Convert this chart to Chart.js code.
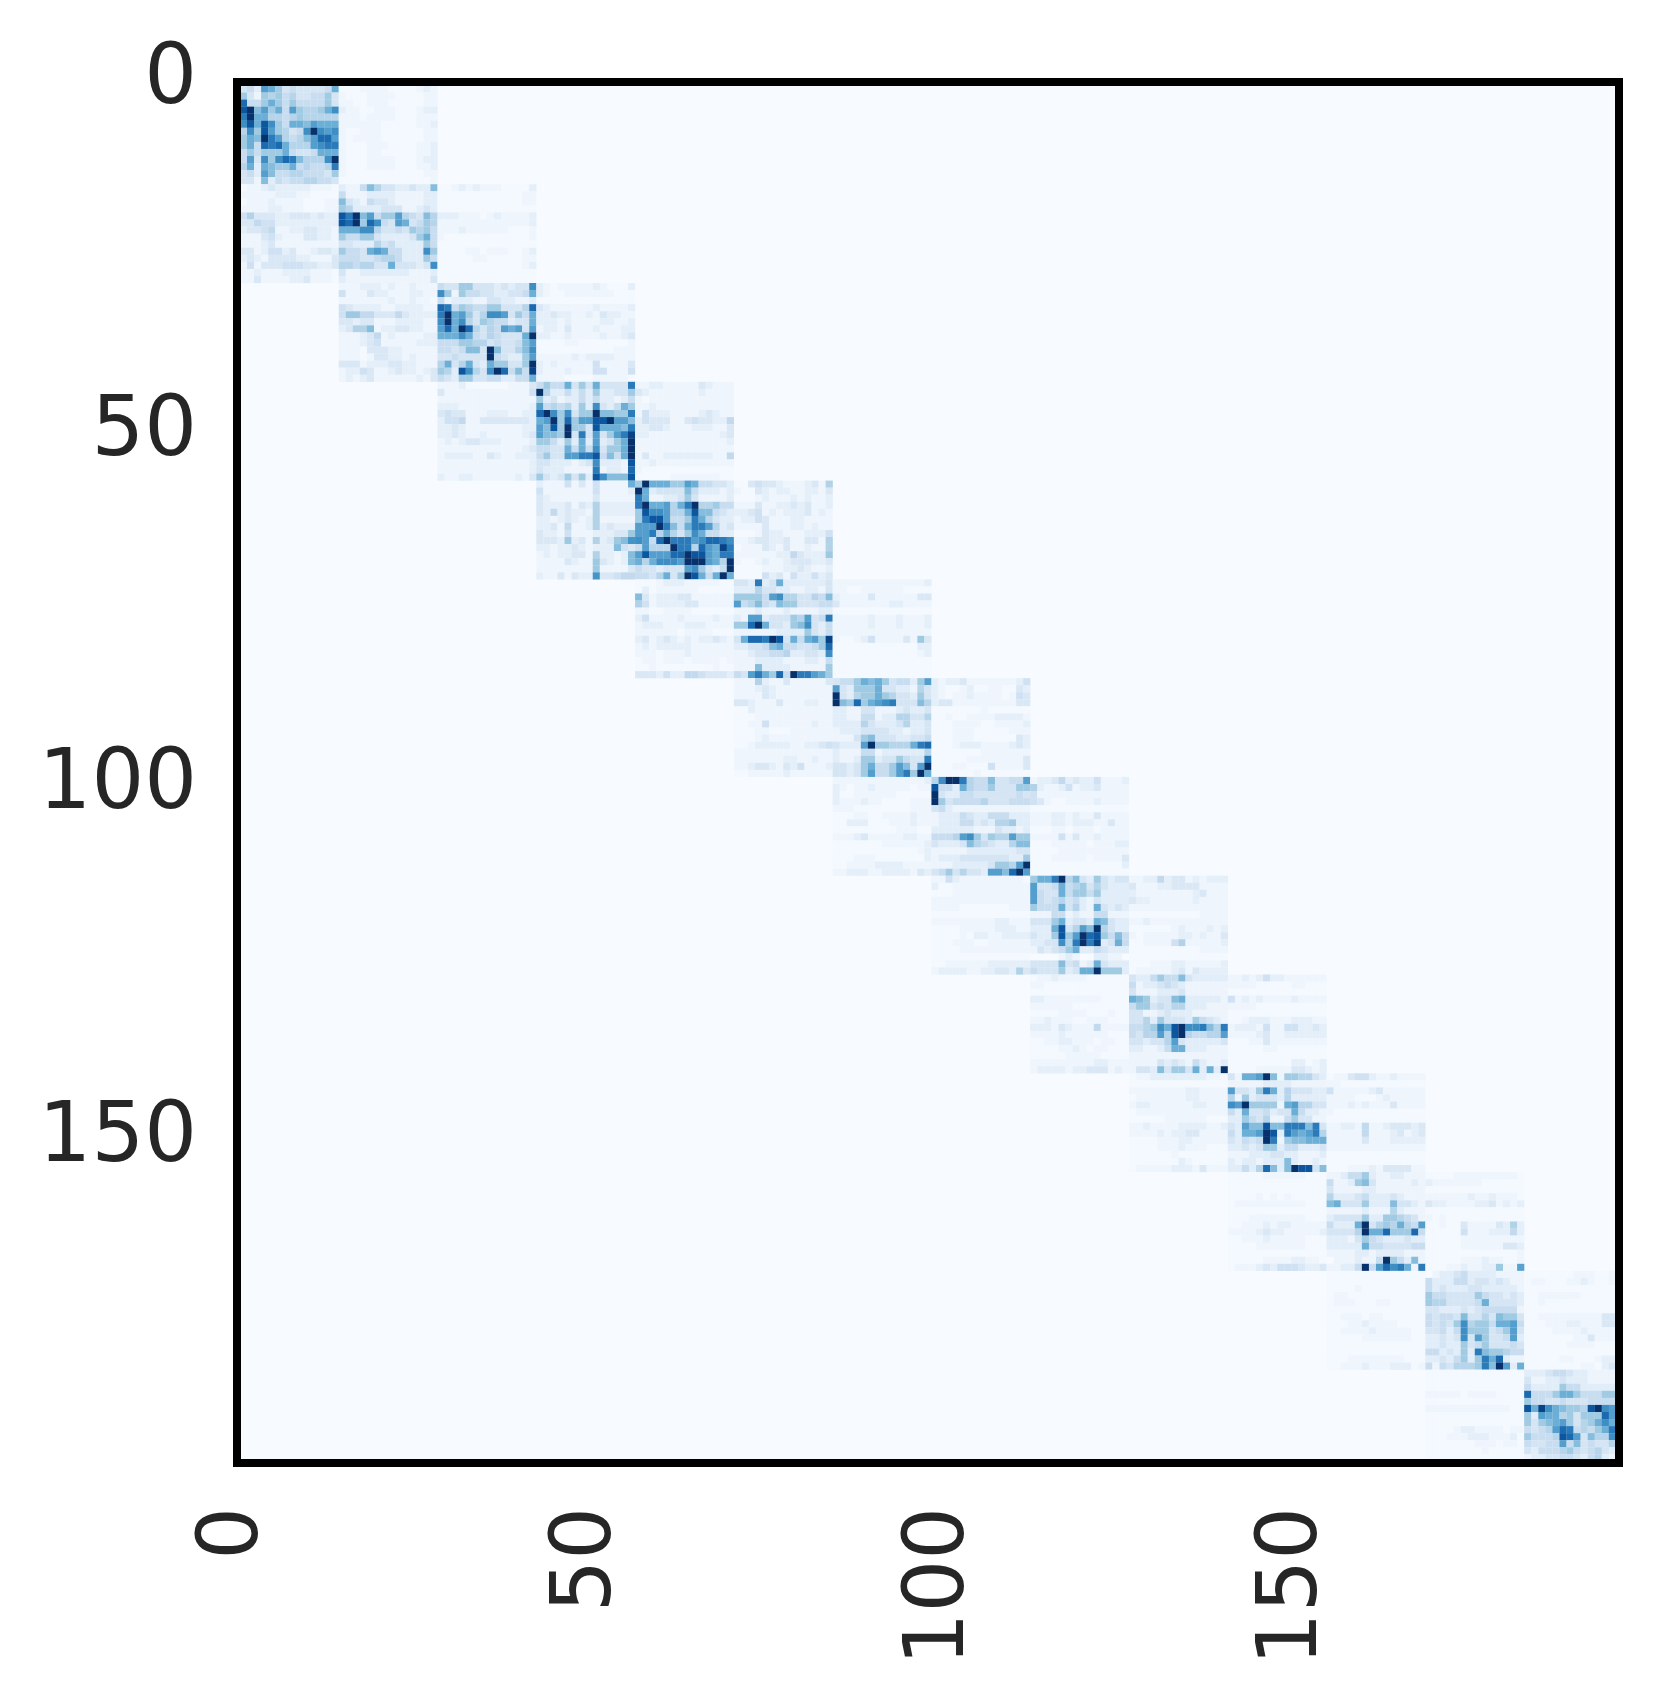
<!DOCTYPE html>
<html>
<head>
<meta charset="utf-8">
<title>heatmap</title>
<script src="https://cdn.jsdelivr.net/npm/chart.js@4/dist/chart.umd.js"></script>
<style>
  html, body { margin: 0; background: #ffffff; }
  canvas { display: block; }
</style>
</head>
<body>
<canvas id="heatmap" width="1661" height="1702"></canvas>
<script>
const tickValues = [0, 50, 100, 150];
const blockSize = 14;
const blueStops = ['#f7fbff', '#deebf7', '#c6dbef', '#9ecae1', '#6baed6', '#4292c6', '#2171b5', '#08519c', '#08306b'];

// one hex digit per cell (0 = palest, f = darkest)
// each row: block left of the diagonal, diagonal block, block right of it
const rows0 = [
  "- 34298634333348 00011110000121",
  "- 63165645334463 10001111000011",
  "- c4468646444463 11001110000011",
  "- df79684965568a 21100111000122",
  "- bf885545655555 11101111000111",
  "- ad8da648879888 11111100000112",
  "- 5a6d96534afa9a 10011100000011",
  "- 687fb954579cc9 10111100000011",
  "- 684cbc85559abb 10001110000112",
  "- 46466684334888 10001100000112",
  "- 493a6acb7555af 10001111000122",
  "- 5828766845445b 10001111000112",
  "- 34297445544436 10000000000011",
  "- 33172434455443 00000000000001"
];
const rows1 = [
  "01123222221110 21147533223227 00121211100002",
  "11111222110000 41112222111122 00000000000011",
  "01112111100011 73214332111122 00000000000011",
  "11112211100011 65222233311232 00000000000000",
  "46333223332322 dbf79466954375 22211101211112",
  "33544222222222 dcf6ca43983465 11111111111112",
  "23345112233221 888aa533436564 11121111110001",
  "11134211133221 64466322223684 10000000000001",
  "11123111111111 33222534222264 00000000000000",
  "33124423112332 644389844222a6 00001101110012",
  "23213333221113 44433455422264 00000110000011",
  "14133344433223 5545533833323a 00000000000012",
  "11211122221110 31122222221112 00000000000000",
  "11311112231110 21111111111113 00000000000000"
];
const rows2 = [
  "11122212112111 4336633323233a 21011111210002",
  "41113221112211 a6164433223348 21001111111000",
  "11111112112110 41222113322112 00000000000000",
  "43222211222211 cb46544663335c 32111111211112",
  "47755333532222 bf89635aa93648 22322112132211",
  "33233111222211 af8a5365442338 22212111122112",
  "23668122332211 9c8fc535498939 12213111211122",
  "11123512111122 888a843543338f 22112111121123",
  "11123411111222 44466553433479 00001100000001",
  "11103332211111 4434773f73357a 00000000000111",
  "11101332212111 3343333f432269 11111212222111",
  "33312223322111 5835832866336f 21211111411113",
  "12243112322123 652da53afc474e 21112111441114",
  "12123111111213 43266334422448 11110000111110"
];
const rows3 = [
  "11120000001113 4644836383333b 11221111132111",
  "31111111111114 f5224242622336 32111111121111",
  "11111111111111 62312242422124 10111111111111",
  "22211111111112 94545262a32486 11211111111111",
  "34331112221122 cfa6a366f7766b 14222111123211",
  "24451133333332 89f6c699ddf997 24333113433225",
  "22321111111122 97d6f663d8887b 22332111222113",
  "22321121111123 9776f3b39369be 22111111111123",
  "12123322211112 6642628292368f 11111111111112",
  "11111111111123 44338484a3668f 11111111111111",
  "12222113211222 463399bbd4748f 13112222222115",
  "11111111111112 33222123a2221d 11211111111111",
  "11111111111112 32221111b1221c 10000000000000",
  "21122111111213 63236362da777d 00000111111100"
];
const rows4 = [
  "21114131411119 6f888669844332 00343321112316",
  "41111111411112 f8233337422212 10032122112213",
  "32111111311111 b8112236311112 00012111212112",
  "32223132622222 bf88958bf55644 11131122323112",
  "32523221622222 6daa9558d77432 22341212223121",
  "22123212611111 6bdd9446b85322 12243111221111",
  "22315112623222 999fb748bb9523 11113111221211",
  "32214111222337 99b58536a84422 00013221112224",
  "3332723162378b a94cfbbb9accba 11233223113316",
  "22122321222843 49555fbb5c98eb 01113213112116",
  "12122331622128 9d999ccfdd98bb 11111122532227",
  "11113211732128 858aaa9fff985f 10012112333223",
  "11111111711113 43323339a6324f 00001112232112",
  "21131322b33455 4435836fd848f8 00004231422423"
];
const rows5 = [
  "00012221111100 332b2382222223 11111111111112",
  "02011111100000 22253322112213 11001111110000",
  "83122233111111 666649a5533547 21111311111133",
  "64122223311111 94574376633344 31111111221111",
  "11001111000000 11121112111122 00000000000000",
  "24111121111211 2199233365934b 11111211121112",
  "12221112221111 66cf833267a324 11111211121112",
  "11111101111000 11111122226324 11111111111111",
  "23123212122321 38ccbfd384896e 10012411113173",
  "12122222111111 2233478443346c 00000000000022",
  "11101112111111 1123344522332a 00000000000012",
  "01101110111101 11122221112214 00000000000000",
  "00100000000100 11172222111116 00000000000000",
  "33324225543332 439b86c4fbb986 00000000000000"
];
const rows6 = [
  "11162113111113 34468786344269 21223111111124",
  "11123211111111 93266683322153 21001200110032",
  "11113211111111 f3256686533263 21011211110143",
  "33211131112211 f76c689ab33375 23311111111133",
  "00211111111111 22113311123223 00000001000000",
  "00011111111111 22114412255335 00100111122221",
  "00114111111211 22225322235223 00011110011112",
  "00011000111111 12223333221223 00011100000111",
  "00012111111111 11136733322334 00011100000032",
  "00122222112234 32229f665558bc 00012221111232",
  "11111111111111 21114412222225 00000001111111",
  "11111112211211 2112662336433b 00000111111113",
  "11233213241112 3323684469739f 00011000411113",
  "00111112111111 3323694469b6f8 00000010000000"
];
const rows7 = [
  "11111111111112 5affb544733449 12235232241112",
  "21011211111011 d4428544633366 62112412231111",
  "20011111100000 f3224433333343 41111111111111",
  "21112110000111 f6344445333444 43100111121111",
  "11100000000111 34211111111111 00000000000000",
  "00011001111211 12224322444222 11122121131111",
  "00222000111211 12224423255622 11122122211311",
  "00000000011100 22222211132212 00011011101111",
  "11123111112211 44459a63655966 11114131121111",
  "00000001111112 32223754322577 00011111011122",
  "00000000000012 11111222222233 00001111111111",
  "00011100000002 12223333333226 00011111011113",
  "00111122221111 1112222236659f 00000000000002",
  "11222112222132 34635332997cf9 00000000000000"
];
const rows8 = [
  "11421111111110 688bf573263233 11225233121222",
  "20011111111111 93348456353222 31112233331111",
  "00011111111111 94338466462222 21111111123111",
  "11111111111111 94345342132222 32211111121111",
  "11110000000111 64448352183232 11111111111111",
  "00000000000000 11144121144111 00000000001111",
  "11111111122111 33368233287322 11211111111111",
  "00001111122211 2228d3597f5322 00000012111212",
  "00001022112222 3226d69fcd6474 10111112212113",
  "00011100111111 2233a5bfbe2384 00111146111112",
  "00001111111111 13234682243222 00000000001111",
  "00000000000000 00001210022110 00000000000000",
  "00111111222222 33337341283222 00011122111112",
  "12222112233263 433362388f6662 01111123132222"
];
const rows9 = [
  "01121111000000 32246447322222 11212422111111",
  "11000000000000 41223432111111 11110000011000",
  "00000000000000 31112223111111 00000000000000",
  "22111111110000 87623378222221 41212111121111",
  "11111100000000 46634355222111 11110000000000",
  "00001111000100 33112322211111 00000000000000",
  "11211100111000 33526333264321 00122211122211",
  "22213211151111 4456a8dfaab75b 12221411442232",
  "11112111111000 435595df544559 11112311222222",
  "00112211101100 33233593222223 00011311111111",
  "00001121011000 22112488222111 00000110000000",
  "00000111110000 11111111111111 00000000000000",
  "11111111122111 11113232142112 00000000022012",
  "12222122333121 1332736638282f 00001111133212"
];
const rows10 = [
  "01122222222110 31889f71665532 01134421121111",
  "00000000000000 11111222211111 11000000000000",
  "11111111221111 93326b82533322 41111123111111",
  "01111111221111 51623332522222 11110001211111",
  "12211111122111 a9f66661895533 11121211131111",
  "01111111111111 42833423384221 10000000000000",
  "00000111111000 22643511463311 00000000000000",
  "11211112222112 32977d77bbb7b3 11221511233323",
  "11112122331111 42889fd2b989b5 11111511123123",
  "00001112211111 32434fb1677888 11111311122222",
  "00001112111000 22323662442223 11111111111111",
  "00000010000000 11122233221112 00000000000000",
  "00000002100000 21221222721121 00000000000000",
  "01111122213111 22425c727fdd37 00011121333311"
];
const rows11 = [
  "00000111111000 11244621122111 00001111111110",
  "00000000000000 41126731111121 21111111000000",
  "00000000000000 31111221111111 00000000000000",
  "00001010100000 52223422232111 11111121121110",
  "01111111111000 78333622273321 32211112231212",
  "00000000000000 11111211152111 00000000000000",
  "00011111111000 23333622665431 10100000000000",
  "00111212211111 42228f35658549 00100311113262",
  "11112322111112 33335f88c666c4 00000411122252",
  "00111211111000 22213643222322 00000111111111",
  "00001111111000 22222844333344 00000111111332",
  "00000000000000 11112212222111 00000000000001",
  "00000111122110 01112114f64271 00000111211001",
  "01112324443223 11224f49cab81b 0001121122711a"
];
const rows12 = [
  "00000000000000 01223422221111 00000001110011",
  "00000000000000 42224423323211 01100011210011",
  "00001000000000 42322233222221 00000000000000",
  "01100000000000 64433336433232 00111111000000",
  "01110001100000 65533334833332 00100000000000",
  "00000000000000 33222323444441 00000000000000",
  "00111011000000 43443733537663 00111111111330",
  "00011211110000 43436a56648894 00011122111331",
  "00111121111100 33424a66634693 00001111211111",
  "00000111111100 22323a39633492 00000001131111",
  "00000000000000 22322634633343 00000011110000",
  "00000000000000 4423262b766544 00000000000000",
  "00011111111000 22324626b8c211 00000110001221",
  "00111211122201 41435556b7f928 00000000110233"
];
const rows13 = [
  "00000000000000 22234432211111",
  "00000000000000 31122322211111",
  "00000000000000 42222644222222",
  "11111011110000 c4446886444666",
  "00000000000000 64433433344444",
  "11111111111100 d8ea87665dfa99",
  "00000000000000 62988563666c99",
  "00000000000000 63678963568a88",
  "00001221111011 43459cb45468bb",
  "00011122211120 64445dc93755aa",
  "00000001110110 43344947343355",
  "00000000100000 32444564345322",
  "00000000000000 12233443245211",
  "00000000000000 11111222111111"
];
const allRows = [rows0, rows1, rows2, rows3, rows4, rows5, rows6, rows7, rows8, rows9, rows10, rows11, rows12, rows13];

const hexToRgb = (hex) => [1, 3, 5].map(i => parseInt(hex.slice(i, i + 2), 16));

const blues = (t) => {
    const pos = t * (blueStops.length - 1);
    const lo = Math.min(Math.floor(pos), blueStops.length - 2);
    const a = hexToRgb(blueStops[lo]);
    const b = hexToRgb(blueStops[lo + 1]);
    const c = a.map((v, i) => Math.round(v + (b[i] - v) * (pos - lo)));
    return `rgb(${c[0]},${c[1]},${c[2]})`;
};

const cells = [];
const cellColors = [];

allRows.forEach((rows, group) => {
    rows.forEach((row, r) => {
        row.split(' ').forEach((segment, s) => {
            const offDiagonal = s !== 1;
            [...segment].forEach((ch, c) => {
                let level = parseInt(ch, 16);
                if (isNaN(level)) return;
                // off-diagonal blocks never quite reach the background colour
                if (offDiagonal) level = Math.max(level, 0.45) * 0.88;
                if (!level) return;
                cells.push({ x: (group + s - 1) * blockSize + c, y: group * blockSize + r });
                cellColors.push(blues(Math.pow(level / 15, 1.1)));
            });
        });
    });
});

const frame = {
    id: 'frame',
    beforeDatasetsDraw(chart) {
        const { ctx, chartArea: a } = chart;
        ctx.save();
        ctx.fillStyle = blueStops[0];
        ctx.fillRect(a.left, a.top, a.width, a.height);
        ctx.restore();
    },
    afterDatasetsDraw(chart) {
        const { ctx, chartArea: a } = chart;
        ctx.save();
        ctx.strokeStyle = '#000000';
        ctx.lineWidth = 8;
        ctx.strokeRect(a.left, a.top, a.width, a.height);
        ctx.restore();
    }
};

const tickFont = { family: '"DejaVu Sans"', size: 83 };

new Chart(document.getElementById('heatmap'), {
    type: 'scatter',
    data: {
        datasets: [{
            data: cells,
            pointStyle: 'rect',
            pointRadius: 5.1,
            pointBorderWidth: 0,
            pointBackgroundColor: cellColors
        }]
    },
    plugins: [frame],
    options: {
        responsive: false,
        animation: false,
        events: [],
        layout: { padding: { top: 82, right: 42, left: 0, bottom: 0 } },
        plugins: { legend: { display: false }, tooltip: { enabled: false } },
        scales: {
            x: {
                type: 'linear',
                position: 'bottom',
                min: -0.925,
                max: 194.93,
                grid: { display: false },
                border: { display: false },
                afterBuildTicks: (scale) => { scale.ticks = tickValues.map(v => ({ value: v })); },
                afterFit: (scale) => { scale.height = 1702 - 1463; },
                ticks: {
                    autoSkip: false,
                    minRotation: 90,
                    maxRotation: 90,
                    padding: 36,
                    labelOffset: -8,
                    color: '#262626',
                    font: tickFont
                }
            },
            y: {
                type: 'linear',
                reverse: true,
                min: -0.997,
                max: 194.72,
                grid: { display: false },
                border: { display: false },
                afterBuildTicks: (scale) => { scale.ticks = tickValues.map(v => ({ value: v })); },
                afterFit: (scale) => { scale.width = 237; },
                ticks: {
                    autoSkip: false,
                    padding: 32,
                    labelOffset: -8,
                    color: '#262626',
                    font: tickFont
                }
            }
        }
    }
});
</script>
</body>
</html>
